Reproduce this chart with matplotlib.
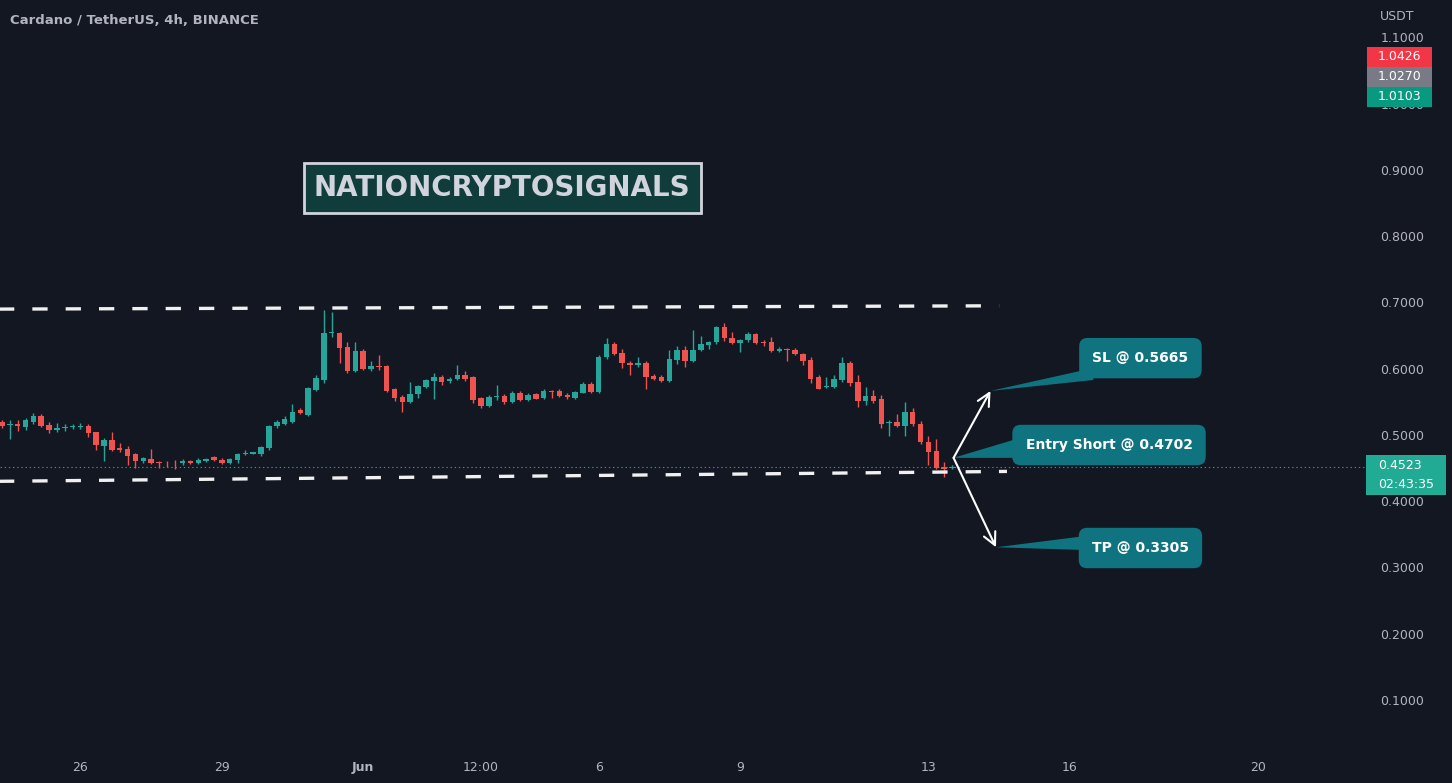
import matplotlib.pyplot as plt
import matplotlib
import numpy as np
import pandas as pd
from matplotlib.patches import Rectangle, Polygon

matplotlib.rcParams['lines.scale_dashes'] = False

# ---- data ----
start_time = pd.Timestamp('2022-05-24 08:00')

opens = [0.520, 0.515, 0.517, 0.512, 0.519, 0.529, 0.515, 0.507, 0.510, 0.512,
         0.512, 0.513, 0.504, 0.483, 0.492, 0.481, 0.479, 0.471, 0.460, 0.464,
         0.459, 0.458, 0.458, 0.457, 0.461, 0.457, 0.461, 0.467, 0.463, 0.458,
         0.463, 0.471, 0.472, 0.471, 0.480, 0.513, 0.517, 0.520, 0.538, 0.530,
         0.568, 0.583, 0.654, 0.654, 0.633, 0.597, 0.627, 0.600, 0.604, 0.604,
         0.569, 0.558, 0.550, 0.562, 0.573, 0.581, 0.588, 0.581, 0.585, 0.591,
         0.587, 0.556, 0.544, 0.558, 0.559, 0.550, 0.564, 0.553, 0.562, 0.556,
         0.567, 0.567, 0.561, 0.556, 0.564, 0.577, 0.565, 0.617, 0.637, 0.624,
         0.609, 0.605, 0.609, 0.589, 0.588, 0.582, 0.613, 0.629, 0.612, 0.629,
         0.636, 0.640, 0.663, 0.646, 0.639, 0.643, 0.652, 0.640, 0.641, 0.627,
         0.630, 0.628, 0.622, 0.613, 0.588, 0.573, 0.572, 0.583, 0.609, 0.580,
         0.552, 0.559, 0.555, 0.518, 0.520, 0.513, 0.534, 0.517, 0.490, 0.476,
         0.452, 0.450]
highs = [0.523, 0.522, 0.522, 0.525, 0.533, 0.531, 0.519, 0.518, 0.516, 0.516,
         0.518, 0.516, 0.505, 0.495, 0.504, 0.488, 0.484, 0.473, 0.467, 0.479,
         0.461, 0.461, 0.462, 0.464, 0.463, 0.466, 0.466, 0.469, 0.465, 0.465,
         0.473, 0.477, 0.475, 0.484, 0.515, 0.522, 0.529, 0.547, 0.540, 0.573,
         0.590, 0.689, 0.686, 0.656, 0.641, 0.641, 0.630, 0.612, 0.621, 0.606,
         0.571, 0.560, 0.580, 0.576, 0.585, 0.594, 0.590, 0.588, 0.606, 0.596,
         0.589, 0.558, 0.560, 0.575, 0.562, 0.566, 0.567, 0.563, 0.564, 0.570,
         0.568, 0.569, 0.564, 0.567, 0.580, 0.580, 0.621, 0.646, 0.640, 0.630,
         0.611, 0.618, 0.611, 0.592, 0.590, 0.628, 0.634, 0.634, 0.658, 0.650,
         0.642, 0.665, 0.669, 0.655, 0.645, 0.655, 0.654, 0.643, 0.648, 0.633,
         0.632, 0.631, 0.624, 0.618, 0.590, 0.588, 0.590, 0.617, 0.611, 0.590,
         0.573, 0.568, 0.561, 0.523, 0.531, 0.550, 0.541, 0.521, 0.498, 0.494,
         0.459, 0.454]
lows = [0.510, 0.494, 0.506, 0.508, 0.516, 0.512, 0.503, 0.505, 0.506, 0.509,
        0.509, 0.497, 0.477, 0.460, 0.476, 0.475, 0.455, 0.450, 0.457, 0.456,
        0.450, 0.452, 0.449, 0.455, 0.456, 0.456, 0.459, 0.460, 0.456, 0.456,
        0.458, 0.470, 0.471, 0.469, 0.477, 0.511, 0.515, 0.518, 0.531, 0.528,
        0.566, 0.579, 0.648, 0.609, 0.594, 0.595, 0.598, 0.597, 0.598, 0.565,
        0.552, 0.535, 0.548, 0.556, 0.571, 0.554, 0.575, 0.579, 0.583, 0.582,
        0.548, 0.541, 0.542, 0.553, 0.547, 0.549, 0.552, 0.551, 0.554, 0.555,
        0.556, 0.558, 0.555, 0.555, 0.563, 0.564, 0.564, 0.615, 0.620, 0.601,
        0.591, 0.602, 0.570, 0.583, 0.580, 0.580, 0.607, 0.603, 0.610, 0.627,
        0.630, 0.638, 0.642, 0.637, 0.626, 0.641, 0.637, 0.634, 0.625, 0.625,
        0.612, 0.620, 0.605, 0.579, 0.569, 0.571, 0.571, 0.580, 0.574, 0.543,
        0.545, 0.549, 0.511, 0.498, 0.512, 0.498, 0.514, 0.487, 0.455, 0.448,
        0.437, 0.448]
closes = [0.513, 0.517, 0.513, 0.522, 0.529, 0.514, 0.507, 0.511, 0.512, 0.513,
          0.513, 0.503, 0.485, 0.493, 0.478, 0.477, 0.468, 0.460, 0.465, 0.458,
          0.457, 0.457, 0.457, 0.461, 0.458, 0.463, 0.464, 0.462, 0.458, 0.464,
          0.472, 0.472, 0.474, 0.482, 0.513, 0.520, 0.524, 0.535, 0.533, 0.571,
          0.586, 0.654, 0.656, 0.632, 0.596, 0.627, 0.600, 0.604, 0.603, 0.567,
          0.556, 0.550, 0.562, 0.574, 0.583, 0.587, 0.580, 0.585, 0.591, 0.584,
          0.553, 0.544, 0.558, 0.559, 0.550, 0.564, 0.553, 0.560, 0.555, 0.567,
          0.565, 0.559, 0.558, 0.565, 0.577, 0.565, 0.618, 0.637, 0.622, 0.608,
          0.605, 0.609, 0.587, 0.585, 0.582, 0.614, 0.629, 0.612, 0.629, 0.637,
          0.640, 0.663, 0.646, 0.639, 0.643, 0.652, 0.639, 0.639, 0.627, 0.630,
          0.628, 0.622, 0.611, 0.585, 0.570, 0.574, 0.585, 0.608, 0.578, 0.552,
          0.559, 0.552, 0.517, 0.519, 0.513, 0.534, 0.516, 0.489, 0.475, 0.450,
          0.448, 0.4523]

tick_dates = ['2022-05-26', '2022-05-29', '2022-06-01', '2022-06-03 12:00', '2022-06-06',
              '2022-06-09', '2022-06-13', '2022-06-16', '2022-06-20']
tick_labels = ['26', '29', 'Jun', '12:00', '6', '9', '13', '16', '20']
price_ticks = [0.1, 0.2, 0.3, 0.4, 0.5, 0.6, 0.7, 0.8, 0.9, 1.0, 1.1]

# trend lines: (candle index, price)
upper_x = [-1, 127]
upper_y = [0.690, 0.695]
lower_x = [-1, 128]
lower_y = [0.4300, 0.4450]

last_price = 0.4523
entry_idx, entry_anchor = 121.2, 0.4655
sl_idx, sl_price = 125.9, 0.5665
tp_idx, tp_price = 126.6, 0.3305

callout_labels = ['SL @ 0.5665', 'Entry Short @ 0.4702', 'TP @ 0.3305']
callout_x = [145.0, 141.0, 145.0]
callout_y = [0.616, 0.4849, 0.3294]

# ---- style ----
BG = '#131722'
UP = '#26a69a'
DOWN = '#ef5350'
TXT = '#b2b5be'
CALL = '#0f7480'

fig = plt.figure(figsize=(14.52, 7.83), dpi=100, facecolor=BG)
ax = fig.add_axes([0, 33 / 783, 1365 / 1452, 750 / 783])
ax.set_facecolor(BG)
for s in ax.spines.values():
    s.set_visible(False)

# candles
xs = np.arange(len(opens))
o = np.array(opens)
h = np.array(highs)
l = np.array(lows)
c = np.array(closes)
cols = [UP if cc >= oo else DOWN for oo, cc in zip(o, c)]
ax.vlines(xs, l, h, colors=cols, linewidth=1, zorder=2)
body_lo = np.minimum(o, c)
body_h = np.maximum(np.abs(c - o), 0.0012)
ax.bar(xs, body_h, bottom=body_lo, width=0.7, color=cols, linewidth=0, zorder=3)

# dashed channel lines
ax.plot(upper_x, upper_y, color='#f0f0f0', linewidth=2.4, dashes=(11, 13), zorder=4,
        dash_capstyle='butt')
ax.plot(lower_x, lower_y, color='#f0f0f0', linewidth=2.4, dashes=(11, 13), zorder=4,
        dash_capstyle='butt')

# last price dotted line
ax.axhline(last_price, color='#3f8c8a', linewidth=0.8, linestyle=(0, (1, 2)), zorder=1)

# arrows
for tx, ty in [(sl_idx, sl_price), (tp_idx, tp_price)]:
    ax.annotate('', xy=(tx, ty), xytext=(entry_idx, entry_anchor),
                arrowprops=dict(arrowstyle='->,head_length=0.9,head_width=0.45',
                                color='white', lw=1.5, shrinkA=0, shrinkB=0), zorder=6)

# callouts
wedges = [
    [(sl_idx, sl_price), (139.0, 0.601), (139.0, 0.583)],
    [(entry_idx, entry_anchor), (130.5, 0.4985), (130.5, 0.4655)],
    [(tp_idx, tp_price), (139.0, 0.349), (139.0, 0.326)],
]
for w in wedges:
    ax.add_patch(Polygon(w, closed=True, facecolor=CALL, edgecolor='none', zorder=5))
for lab, cx, cy in zip(callout_labels, callout_x, callout_y):
    ax.text(cx, cy, lab, color='white', fontsize=10, weight='bold', ha='center', va='center',
            zorder=7, bbox=dict(boxstyle='round,pad=0.95,rounding_size=0.6', facecolor=CALL,
                                edgecolor='none'))

# axes setup
ax.set_xlim(-0.25, 173.6)
ax.set_ylim(0.0245, 1.1566)
tick_pos = [(pd.Timestamp(d) - start_time) / pd.Timedelta(hours=4) for d in tick_dates]
ax.set_xticks(tick_pos)
ax.set_xticklabels(tick_labels)
for t, lab in zip(ax.get_xticklabels(), tick_labels):
    if lab == 'Jun':
        t.set_fontweight('bold')
ax.tick_params(axis='x', length=0, pad=8, labelsize=9, labelcolor=TXT)
ax.yaxis.tick_right()
ax.set_yticks(price_ticks)
ax.set_yticklabels(['{:.4f}'.format(p) for p in price_ticks])
ax.tick_params(axis='y', length=0, pad=11, labelsize=9, labelcolor=TXT)


def fy(ypx):
    return 1 - ypx / 783


def fx(xpx):
    return xpx / 1452


# title and axis unit
fig.text(fx(10), fy(20), 'Cardano / TetherUS, 4h, BINANCE', color=TXT, fontsize=9.5,
         weight='bold', va='center', ha='left')
fig.text(fx(1380), fy(16), 'USDT', color=TXT, fontsize=9, va='center', ha='left')

# watermark box
fig.add_artist(Rectangle((fx(304), fy(213)), fx(701) - fx(304), fy(163) - fy(213),
                         transform=fig.transFigure, facecolor='#103c3b', edgecolor='#d1d4dc',
                         linewidth=2))
fig.text(fx(502), fy(188), 'NATIONCRYPTOSIGNALS', color='#d1d4dc', fontsize=20, weight='bold',
         ha='center', va='center')

# price tags at top right (drawn over the 1.0000 label)
tags = [('1.0426', '#f23645', 47), ('1.0270', '#787b86', 67), ('1.0103', '#089981', 87)]
for txt, col, ytop in tags:
    fig.add_artist(Rectangle((fx(1367), fy(ytop + 20)), fx(1432) - fx(1367), fy(ytop) - fy(ytop + 20),
                             transform=fig.transFigure, facecolor=col, edgecolor='none'))
    fig.text(fx(1399.5), fy(ytop + 10), txt, color='white', fontsize=9, ha='center', va='center')

# current price tag
fig.add_artist(Rectangle((fx(1366), fy(495)), fx(1446) - fx(1366), fy(455) - fy(495),
                         transform=fig.transFigure, facecolor='#22ab94', edgecolor='none'))
fig.text(fx(1378), fy(466), '0.4523', color='white', fontsize=9, ha='left', va='center')
fig.text(fx(1378), fy(485), '02:43:35', color='white', fontsize=9, ha='left', va='center')

fig.savefig('out.png', dpi=100, facecolor=BG)
